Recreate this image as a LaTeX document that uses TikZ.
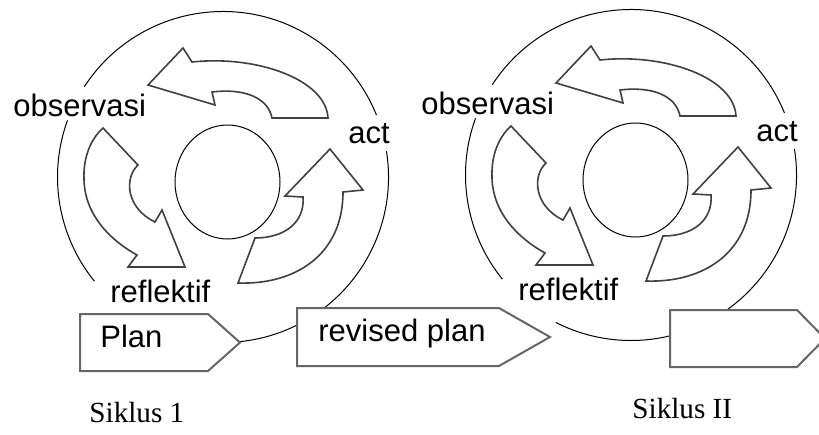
\documentclass[tikz,border=0pt]{standalone}
\usepackage{fontspec}
\setmainfont{Liberation Serif}
\setsansfont{Liberation Sans}

\begin{document}
\begin{tikzpicture}[x=0.5pt, y=-0.5pt,
    lbl/.style={font=\sffamily\fontsize{15.5}{18}\selectfont,
                inner sep=0pt, anchor=base west},
    sik/.style={font=\fontsize{14.6}{17}\selectfont,
                inner sep=0pt, anchor=base west},
    orbit/.style={draw, line width=0.5pt},
    swoop/.style={draw=black!75, fill=white, line width=0.8pt},
    tagbox/.style={draw=black!60, fill=white, line width=1pt}
  ]
  \useasboundingbox (0,0) rectangle (819,434);
  \clip (0,0) rectangle (819,434);

  \draw[orbit] (223,177) ++(141:165.5) arc[start angle=141, end angle=200, radius=165.5];
  \draw[orbit] (223,177) ++(213:165.5) arc[start angle=213, end angle=338, radius=165.5];
  \draw[orbit] (223,177) ++(351:165.5) arc[start angle=351, end angle=477, radius=165.5];
  \draw[orbit] (227.5,182) ellipse[x radius=52.5, y radius=57];

  \draw[swoop] (148,85) -- (183,48) -- (192,62)
    .. controls (258,55) and (326,80) .. (328,118) -- (272,118)
    .. controls (268,98) and (245,88) .. (212,92) -- (215,105) -- cycle;
  \draw[swoop] (103,128) -- (138,165)
    .. controls (124,178) and (126,208) .. (155,222) -- (162,210)
    -- (185,267) -- (128,267) -- (137,255)
    .. controls (110,240) and (85,215) .. (84,180)
    .. controls (83,155) and (92,138) .. (103,128) -- cycle;
  \draw[swoop] (330,149) -- (363,190) -- (343,192)
    .. controls (343,255) and (295,285) .. (238,283) -- (255,238)
    .. controls (285,238) and (305,222) .. (303,197) -- (285,196) -- cycle;

  \node[lbl] (obs1) at (13,116) {observasi};
  \node[lbl] (act1) at (348,143) {act};
  \node[lbl] (refl1) at (110,302) {reflektif};

  \begin{scope}[shift={(408,-2)}]
    \draw[orbit] (223,177) ++(141:165.5) arc[start angle=141, end angle=200, radius=165.5];
    \draw[orbit] (223,177) ++(213:165.5) arc[start angle=213, end angle=338, radius=165.5];
    \draw[orbit] (223,177) ++(351:165.5) arc[start angle=351, end angle=477, radius=165.5];
    \draw[orbit] (227.5,182) ellipse[x radius=52.5, y radius=57];

    \draw[swoop] (148,85) -- (183,48) -- (192,62)
      .. controls (258,55) and (326,80) .. (328,118) -- (272,118)
      .. controls (268,98) and (245,88) .. (212,92) -- (215,105) -- cycle;
    \draw[swoop] (103,128) -- (138,165)
      .. controls (124,178) and (126,208) .. (155,222) -- (162,210)
      -- (185,267) -- (128,267) -- (137,255)
      .. controls (110,240) and (85,215) .. (84,180)
      .. controls (83,155) and (92,138) .. (103,128) -- cycle;
    \draw[swoop] (330,149) -- (363,190) -- (343,192)
      .. controls (343,255) and (295,285) .. (238,283) -- (255,238)
      .. controls (285,238) and (305,222) .. (303,197) -- (285,196) -- cycle;

    \node[lbl] (obs2) at (13,116) {observasi};
    \node[lbl] (act2) at (348,143) {act};
    \node[lbl] (refl2) at (110,302) {reflektif};
  \end{scope}

  \draw[tagbox] (80,314) -- (208,314) -- (240,342.5) -- (208,371) -- (80,371) -- cycle;
  \node[lbl] (plan) at (100,347) {Plan};
  \draw[tagbox] (297,308) -- (499,308) -- (550,337) -- (499,366) -- (297,366) -- cycle;
  \node[lbl] (revplan) at (318,341) {revised plan};
  \draw[tagbox] (670,310) -- (797,310) -- (825,338.5) -- (797,367) -- (670,367) -- cycle;

  \node[sik] (sik1) at (89,422) {Siklus 1};
  \node[sik] (sik2) at (632,418) {Siklus II};
\end{tikzpicture}
\end{document}
